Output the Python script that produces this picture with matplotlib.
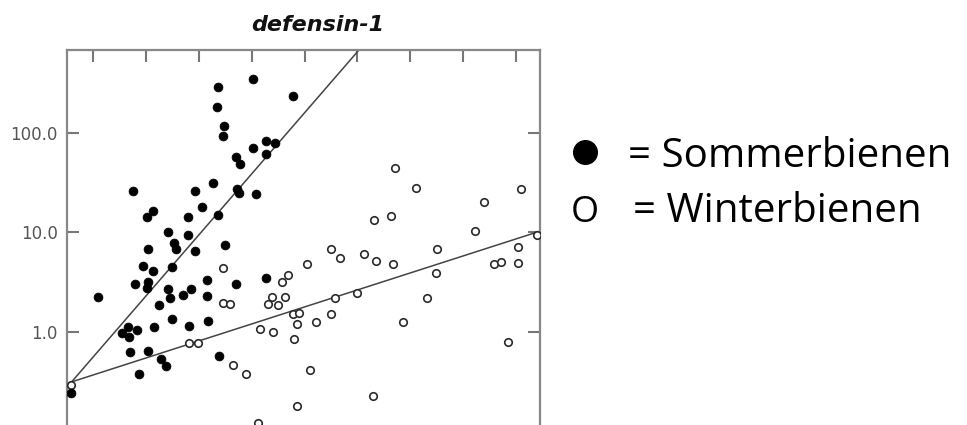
import numpy as np
import matplotlib
matplotlib.use("Agg")
import matplotlib.pyplot as plt
from matplotlib.lines import Line2D

# Texte
title = "defensin-1"
label_sommer = "= Sommerbienen"
label_winter = "= Winterbienen"

# Sommerbienen (gefuellte Punkte)
sommer_x = [3.36, 3.34, 3.48, 3.46, 4.02, 4.78, 4.27, 4.44, 4.02, 4.27, 3.70, 3.78,
            3.27, 2.93, 1.76, 3.72, 3.76, 4.08, 2.13, 3.06, 2.02, 2.80, 3.36, 2.42,
            2.80, 2.53, 2.57, 2.93, 2.04, 3.50, 1.95, 2.13, 2.49, 1.79, 2.04, 2.02,
            2.42, 2.46, 2.85, 2.70, 3.16, 3.16, 1.09, 2.25, 2.49, 2.81, 3.17, 2.15,
            1.66, 1.83, 1.55, 1.68, 1.70, 2.04, 2.29, 2.38, 3.38, 1.87, 0.58, 3.70,
            4.27]
sommer_y = [290, 182, 118, 93, 349, 235, 83, 79, 71, 61.5, 57, 48.8,
            31.4, 26.1, 26.1, 27.4, 25.0, 24.4, 16.4, 18.0, 14.3, 14.3, 15.0, 10.1,
            9.44, 7.84, 6.83, 6.52, 6.83, 7.49, 4.61, 4.10, 4.50, 3.04, 3.18, 2.77,
            2.71, 2.20, 2.71, 2.35, 3.33, 2.30, 2.25, 1.87, 1.35, 1.15, 1.29, 1.12,
            1.12, 1.05, 0.98, 0.89, 0.63, 0.64, 0.54, 0.46, 0.57, 0.38, 0.244, 3.04,
            3.49]

# Winterbienen (offene Punkte)
winter_x = [3.46, 3.46, 3.59, 2.81, 2.98, 3.65, 3.89, 0.58, 4.16, 4.40, 4.80, 4.86,
            4.78, 4.89, 4.31, 4.50, 4.38, 4.63, 4.57, 4.69, 5.50, 5.67, 6.12, 6.35,
            5.05, 5.57, 5.99, 5.50, 5.22, 5.10, 6.29, 4.86, 4.12, 6.31, 6.63, 6.71,
            7.11, 6.67, 7.50, 7.48, 7.31, 6.86, 8.22, 8.39, 8.58, 8.71, 9.03, 9.03,
            9.09, 9.39, 8.85]
winter_y = [4.40, 1.96, 1.91, 0.775, 0.775, 0.466, 0.38, 0.293, 1.07, 1.00, 0.85, 1.20,
            1.52, 1.55, 1.91, 1.87, 2.25, 2.25, 3.18, 3.74, 6.83, 5.54, 6.08, 5.17,
            4.82, 2.20, 2.47, 1.52, 1.26, 0.415, 0.227, 0.180, 0.122, 13.4, 14.7, 44.5,
            28.0, 4.82, 6.83, 3.92, 2.20, 1.26, 10.4, 20.3, 4.82, 5.06, 7.15, 4.94,
            27.4, 9.44, 0.794]

# Regressionsgeraden: log10(y) = a + b*x
fit_sommer = (-0.867, 0.614)
fit_winter = (-0.603, 0.171)

# Achsenbeschriftung
xticks = [1, 2, 3, 4, 5, 6, 7, 8, 9]
yticks = [0.1, 1.0, 10.0, 100.0]
ytick_labels = ["0.1", "1.0", "10.0", "100.0"]

W, H = 967, 425
fig = plt.figure(figsize=(W / 100, H / 100), dpi=100)

# Achse reicht unten ueber den Bildrand hinaus (wie im Original abgeschnitten)
ax = fig.add_axes([67 / W, 1 - 461.5 / H, (540 - 67) / W, (461.5 - 50) / H])
ax.set_yscale("log")
ax.set_xlim(0.509, 9.45)
ax.set_ylim(0.05, 682)

# Punkte
ax.plot(winter_x, winter_y, "o", ms=5.4, mfc="white", mec="#2a2a2a", mew=1.2,
        linestyle="none", zorder=3)
ax.plot(sommer_x, sommer_y, "o", ms=6.4, mfc="black", mec="black", mew=0.5,
        linestyle="none", zorder=4)

# Geraden
xs = np.array(ax.get_xlim())
for a, b in (fit_sommer, fit_winter):
    ax.plot(xs, 10 ** (a + b * xs), color="#444444", lw=1.1, zorder=2)

# Achsen-Stil
ax.minorticks_off()
ax.set_xticks(xticks)
ax.set_xticklabels([])
ax.set_yticks(yticks)
ax.set_yticklabels(ytick_labels)
ax.tick_params(axis="both", direction="in", length=8.5, width=1.5, color="#777777",
               top=True, right=True, bottom=False, labelbottom=False,
               labelsize=12, labelcolor="#555555", pad=6.5)
for side in ("left", "top", "right", "bottom"):
    ax.spines[side].set_color("#888888")
    ax.spines[side].set_linewidth(1.6)

# Titel
fig.text(318 / W, 1 - 25 / H, title, ha="center", va="center", fontsize=16,
         fontweight="bold", fontstyle="italic", color="#111111")

# Legende rechts
fig.add_artist(Line2D([585 / W], [1 - 152 / H], marker="o", ms=17, color="black",
                      linestyle="none", transform=fig.transFigure))
fig.text(585 / W, 1 - 222 / H, "O", ha="center", va="baseline", fontsize=26,
         family="Open Sans", color="black")
fig.text(628 / W, 1 - 167 / H, label_sommer, ha="left", va="baseline", fontsize=29,
         family="Open Sans", color="black")
fig.text(633 / W, 1 - 222 / H, label_winter, ha="left", va="baseline", fontsize=29,
         family="Open Sans", color="black")

fig.savefig("out.png", dpi=100)
